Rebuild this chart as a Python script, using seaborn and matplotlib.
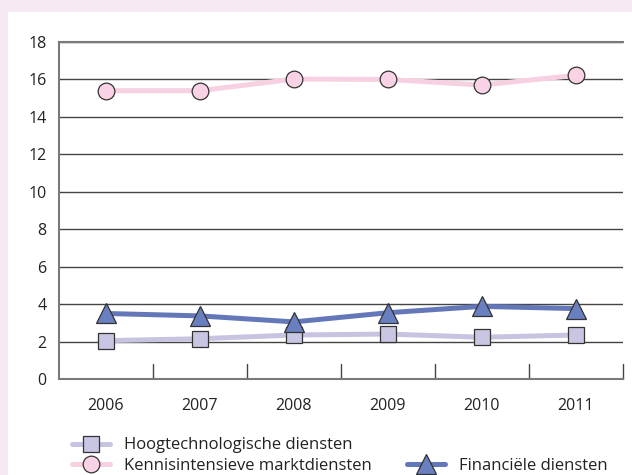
import matplotlib
matplotlib.use("Agg")
import matplotlib.pyplot as plt
import seaborn as sns
import pandas as pd
from matplotlib.lines import Line2D

# --- datos ---
jaren = ['2006', '2007', '2008', '2009', '2010', '2011']
hoogtech = [2.05, 2.15, 2.35, 2.4, 2.23, 2.35]
kennis = [15.4, 15.4, 16.02, 16.0, 15.7, 16.22]
financieel = [3.5, 3.37, 3.05, 3.54, 3.88, 3.76]

lbl_hoog = 'Hoogtechnologische diensten'
lbl_kennis = 'Kennisintensieve marktdiensten'
lbl_fin = 'Financiële diensten'

df = pd.DataFrame({'jaar': jaren * 3,
                   'waarde': hoogtech + kennis + financieel,
                   'reeks': [lbl_hoog] * 6 + [lbl_kennis] * 6 + [lbl_fin] * 6})

sns.set_style('white')
plt.rcParams['font.family'] = ['Open Sans', 'DejaVu Sans']

fig = plt.figure(figsize=(6.32, 4.75), dpi=100)
fig.patch.set_facecolor('#f5e9f3')
# panel blanco
fig.patches.append(plt.Rectangle((8 / 632, 0), 1, 1 - 12 / 475, transform=fig.transFigure,
                                 facecolor='white', edgecolor='none', zorder=-5))

ax = fig.add_axes([59 / 632, (475 - 379) / 475, (623 - 59) / 632, (379 - 42) / 475])
ax.set_facecolor('white')

kleuren = {lbl_hoog: ('#c6c4e1', '#c8c6e3'), lbl_kennis: ('#f7d0e2', '#f9d3e5'),
           lbl_fin: ('#6478b9', '#6a7fc0')}
markers = {lbl_hoog: 's', lbl_kennis: 'o', lbl_fin: '^'}
msize = {lbl_hoog: 11.5, lbl_kennis: 12, lbl_fin: 14}

for i, reeks in enumerate([lbl_hoog, lbl_kennis, lbl_fin]):
    sub = df[df['reeks'] == reeks]
    lijn, vlak = kleuren[reeks]
    sns.lineplot(data=sub, x='jaar', y='waarde', ax=ax, color=lijn, linewidth=3.6,
                 marker=markers[reeks], markersize=msize[reeks], markerfacecolor=vlak,
                 markeredgecolor='#333333', markeredgewidth=0.9, zorder=3 + i,
                 legend=False)

ax.set_ylim(0, 18)
ax.set_xlim(-0.5, 5.5)
ax.set_yticks(range(0, 19, 2))
ax.grid(axis='y', color='#444444', linewidth=1, zorder=1)
ax.set_axisbelow(True)
ax.set_xlabel('')
ax.set_ylabel('')
for s in ['left', 'bottom', 'top']:
    ax.spines[s].set_color('#7a7a7a')
    ax.spines[s].set_linewidth(1.5)
ax.spines['right'].set_visible(False)
ax.tick_params(axis='y', length=0, labelsize=11.5, colors='#222222', pad=9)
ax.tick_params(axis='x', length=0, labelsize=11.5, colors='#222222', pad=14)
# ticks en los limites de categoria
for b in [0.5, 1.5, 2.5, 3.5, 4.5, 5.5]:
    ax.plot([b, b], [0, 0.8], color='#444444', linewidth=1, clip_on=False, zorder=2)

def h(reeks):
    lijn, vlak = kleuren[reeks]
    return Line2D([], [], color=lijn, linewidth=3.6, marker=markers[reeks],
                  markersize=msize[reeks], markerfacecolor=vlak,
                  markeredgecolor='#333333', markeredgewidth=0.9)

leg_opts = dict(frameon=False, fontsize=12, handlelength=2.3, handletextpad=0.8,
                labelspacing=0.25, borderpad=0, borderaxespad=0, labelcolor='#222222',
                loc='center left')
fig.legend([h(lbl_hoog), h(lbl_kennis)], [lbl_hoog, lbl_kennis],
           bbox_to_anchor=(72 / 632, 1 - 455.5 / 475), **leg_opts)
fig.legend([h(lbl_fin)], [lbl_fin], bbox_to_anchor=(407 / 632, 1 - 466 / 475), **leg_opts)

fig.savefig('out.png', dpi=100, facecolor=fig.get_facecolor())
